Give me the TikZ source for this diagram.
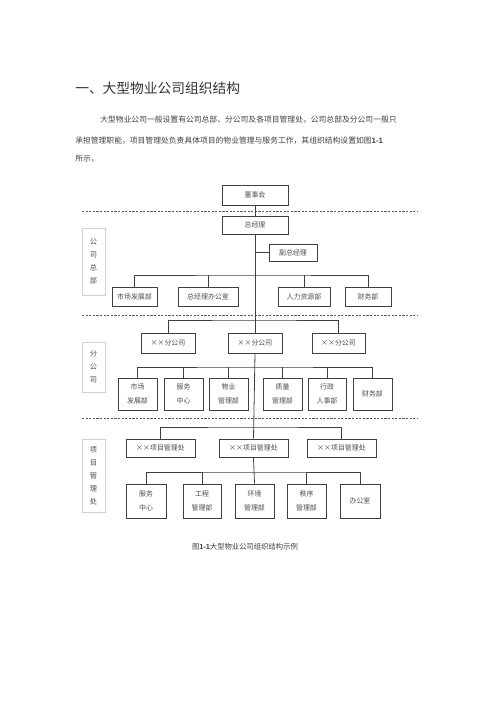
\documentclass[tikz,border=0pt]{standalone}
\usepackage{fontspec}
\setmainfont{Liberation Serif}
\newfontfamily\cjk{Noto Sans CJK SC}
\newfontfamily\lat{Liberation Sans}
\newcommand\bx[6]{\node[box,minimum width={(#4-#2)*0.75pt},minimum height={(#5-#3)*0.75pt}] (#1) at ({(#2+#4)/2},{(#3+#5)/2}) {#6};}
\begin{document}
\begin{tikzpicture}[x=0.75pt,y=-0.75pt,
  box/.style={draw=black!75, line width=0.6pt, fill=white, font=\cjk\fontsize{5.2}{10.5}\selectfont, text=black!70, inner sep=0pt, align=center},
  conn/.style={draw=black!75, line width=0.6pt},
  sep/.style={draw=black!65, line width=0.6pt, dash pattern=on 1.6pt off 1.1pt},
  lab/.style={draw=black!18, line width=0.5pt, inner sep=0pt, font=\cjk\fontsize{5.4}{9.75}\selectfont, text=black!70, align=center},
  para/.style={anchor=west, inner sep=0pt, font=\cjk\fontsize{5.85}{7}\selectfont, text=black!75}]
\useasboundingbox (0,0) rectangle (500,708);
% heading and text
\node[anchor=west, inner sep=0pt, font=\cjk\fontsize{10.3}{12}\selectfont, text=black!80] (title) at (75,88) {一、大型物业公司组织结构};
\node[para] (p1) at (100,120) {大型物业公司一般设置有公司总部、分公司及各项目管理处，公司总部及分公司一般只};
\node[para] (p2) at (75,141) {承担管理职能，项目管理处负责具体项目的物业管理与服务工作，其组织结构设置如图{\lat\bfseries 1-1}};
\node[para] (p3) at (75,159) {所示，};
% separators
\draw[sep] (82,211.7) -- (418,211.7);
\draw[sep] (82,315) -- (418,315);
\draw[sep] (82,418) -- (418,418);
% side labels
\node[lab, minimum width={23*0.75pt}, minimum height={67*0.75pt}] (l1) at (93.5,261.5) {公\\司\\总\\部};
\node[lab, minimum width={23*0.75pt}, minimum height={50*0.75pt}] (l2) at (93.5,367) {分\\公\\司};
\node[lab, minimum width={23*0.75pt}, minimum height={73*0.75pt}] (l3) at (93.5,475.5) {项\\目\\管\\理\\处};
% top
\bx{dsh}{222}{185}{288}{205}{董事会}
\bx{zjl}{222}{216}{288}{234}{总经理}
\bx{fzjl}{269}{244}{317}{261}{副总经理}
\bx{a1}{112}{287}{157}{306}{市场发展部}
\bx{a2}{178}{287}{238}{306}{总经理办公室}
\bx{a3}{278}{287}{330}{306}{人力资源部}
\bx{a4}{345}{287}{391}{306}{财务部}
% branch
\bx{f1}{141}{333}{195}{353}{××分公司}
\bx{f2}{228}{333}{282}{353}{××分公司}
\bx{f3}{312}{333}{365}{353}{××分公司}
\bx{b1}{118}{378}{157}{410}{市场\\发展部}
\bx{b2}{164}{378}{203}{410}{服务\\中心}
\bx{b3}{209}{378}{248}{410}{物业\\管理部}
\bx{b4}{263}{378}{302}{410}{质量\\管理部}
\bx{b5}{308}{378}{346}{410}{行政\\人事部}
\bx{b6}{353}{378}{392}{410}{财务部}
% project
\bx{x1}{126}{439}{195}{457}{××项目管理处}
\bx{x2}{219}{439}{288}{457}{××项目管理处}
\bx{x3}{307}{439}{376}{457}{××项目管理处}
\bx{c1}{126}{484}{166}{518}{服务\\中心}
\bx{c2}{183}{484}{221}{518}{工程\\管理部}
\bx{c3}{235}{484}{274}{518}{环境\\管理部}
\bx{c4}{287}{484}{326}{518}{秩序\\管理部}
\bx{c5}{340}{484}{380}{518}{办公室}
% caption
\node[inner sep=0pt, font=\cjk\fontsize{5.5}{7}\selectfont, text=black!75] (cap) at (245,547) {图{\lat\bfseries 1-1}大型物业公司组织结构示例};
% bus coordinates
\coordinate (busA) at (255,275);
\coordinate (busF) at (255,320);
\coordinate (busB) at (255,367);
\coordinate (busX) at (255,427);
\coordinate (busC) at (255,472);
% connectors
\draw[conn] (dsh) -- (zjl);
\draw[conn] (zjl.south) -- (f2.north);
\draw[conn] (fzjl.west) -- (fzjl.west -| zjl.south);
\draw[conn] (a1.north) |- (busA) -| (a4.north);
\draw[conn] (a2.north) -- (a2.north |- busA);
\draw[conn] (a3.north) -- (a3.north |- busA);
\draw[conn] (f1.north) |- (busF) -| (f3.north);
\draw[conn] (f2.south) -- (x2.north);
\draw[conn] (b1.north) |- (busB) -| (b6.north);
\draw[conn] (b2.north) -- (b2.north |- busB);
\draw[conn] (b3.north) -- (b3.north |- busB);
\draw[conn] (b4.north) -- (b4.north |- busB);
\draw[conn] (b5.north) -- (b5.north |- busB);
\draw[conn] (x1.north) |- (busX) -| (x3.north);
\draw[conn] (x2.south) -- (c3.north);
\draw[conn] (c1.north) |- (busC) -| (c5.north);
\draw[conn] (c2.north) -- (c2.north |- busC);
\draw[conn] (c4.north) -- (c4.north |- busC);
\end{tikzpicture}
\end{document}
